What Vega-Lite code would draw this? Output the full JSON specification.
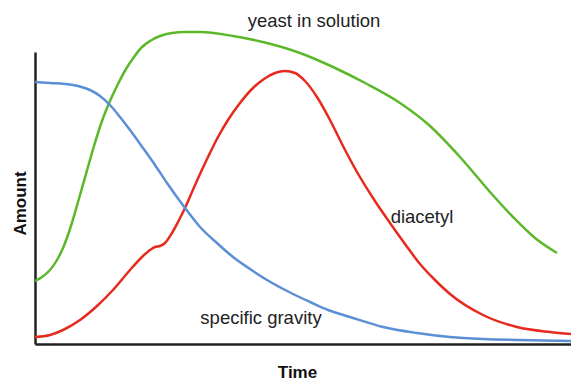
{
  "$schema": "https://vega.github.io/schema/vega-lite/v6.json",
  "width": 536,
  "height": 292,
  "autosize": {"type": "none"},
  "padding": {"left": 35, "top": 52, "right": 0, "bottom": 38},
  "background": "white",
  "config": {
    "view": {"stroke": null},
    "font": "Liberation Sans"
  },
  "datasets": {
    "curves": [
      {"series": "yeast in solution", "time": 0, "amount": 63},
      {"series": "yeast in solution", "time": 7, "amount": 67},
      {"series": "yeast in solution", "time": 15, "amount": 74},
      {"series": "yeast in solution", "time": 22, "amount": 84},
      {"series": "yeast in solution", "time": 28, "amount": 96},
      {"series": "yeast in solution", "time": 35, "amount": 115},
      {"series": "yeast in solution", "time": 43, "amount": 142},
      {"series": "yeast in solution", "time": 51, "amount": 170},
      {"series": "yeast in solution", "time": 59, "amount": 198},
      {"series": "yeast in solution", "time": 67, "amount": 223},
      {"series": "yeast in solution", "time": 75, "amount": 243},
      {"series": "yeast in solution", "time": 83, "amount": 260},
      {"series": "yeast in solution", "time": 91, "amount": 275},
      {"series": "yeast in solution", "time": 99, "amount": 287},
      {"series": "yeast in solution", "time": 107, "amount": 297},
      {"series": "yeast in solution", "time": 115, "amount": 303},
      {"series": "yeast in solution", "time": 125, "amount": 308},
      {"series": "yeast in solution", "time": 137, "amount": 311},
      {"series": "yeast in solution", "time": 150, "amount": 312},
      {"series": "yeast in solution", "time": 165, "amount": 312},
      {"series": "yeast in solution", "time": 198, "amount": 308},
      {"series": "yeast in solution", "time": 232, "amount": 301},
      {"series": "yeast in solution", "time": 265, "amount": 291},
      {"series": "yeast in solution", "time": 298, "amount": 277},
      {"series": "yeast in solution", "time": 332, "amount": 260},
      {"series": "yeast in solution", "time": 365, "amount": 241},
      {"series": "yeast in solution", "time": 395, "amount": 218},
      {"series": "yeast in solution", "time": 425, "amount": 187},
      {"series": "yeast in solution", "time": 455, "amount": 152},
      {"series": "yeast in solution", "time": 478, "amount": 127},
      {"series": "yeast in solution", "time": 500, "amount": 106},
      {"series": "yeast in solution", "time": 522, "amount": 91},

      {"series": "diacetyl", "time": 0, "amount": 7},
      {"series": "diacetyl", "time": 15, "amount": 9},
      {"series": "diacetyl", "time": 28, "amount": 14},
      {"series": "diacetyl", "time": 45, "amount": 24},
      {"series": "diacetyl", "time": 62, "amount": 38},
      {"series": "diacetyl", "time": 78, "amount": 54},
      {"series": "diacetyl", "time": 95, "amount": 74},
      {"series": "diacetyl", "time": 108, "amount": 88},
      {"series": "diacetyl", "time": 115, "amount": 94},
      {"series": "diacetyl", "time": 120, "amount": 97},
      {"series": "diacetyl", "time": 125, "amount": 98},
      {"series": "diacetyl", "time": 130, "amount": 101},
      {"series": "diacetyl", "time": 137, "amount": 111},
      {"series": "diacetyl", "time": 143, "amount": 122},
      {"series": "diacetyl", "time": 150, "amount": 136},
      {"series": "diacetyl", "time": 157, "amount": 152},
      {"series": "diacetyl", "time": 165, "amount": 170},
      {"series": "diacetyl", "time": 173, "amount": 187},
      {"series": "diacetyl", "time": 183, "amount": 207},
      {"series": "diacetyl", "time": 193, "amount": 224},
      {"series": "diacetyl", "time": 205, "amount": 241},
      {"series": "diacetyl", "time": 217, "amount": 255},
      {"series": "diacetyl", "time": 229, "amount": 265},
      {"series": "diacetyl", "time": 240, "amount": 271},
      {"series": "diacetyl", "time": 250, "amount": 273},
      {"series": "diacetyl", "time": 260, "amount": 271},
      {"series": "diacetyl", "time": 270, "amount": 263},
      {"series": "diacetyl", "time": 282, "amount": 247},
      {"series": "diacetyl", "time": 295, "amount": 224},
      {"series": "diacetyl", "time": 308, "amount": 198},
      {"series": "diacetyl", "time": 322, "amount": 172},
      {"series": "diacetyl", "time": 338, "amount": 146},
      {"series": "diacetyl", "time": 355, "amount": 121},
      {"series": "diacetyl", "time": 370, "amount": 100},
      {"series": "diacetyl", "time": 385, "amount": 80},
      {"series": "diacetyl", "time": 400, "amount": 64},
      {"series": "diacetyl", "time": 415, "amount": 50},
      {"series": "diacetyl", "time": 448, "amount": 29},
      {"series": "diacetyl", "time": 482, "amount": 17},
      {"series": "diacetyl", "time": 515, "amount": 12},
      {"series": "diacetyl", "time": 536, "amount": 10},

      {"series": "specific gravity", "time": 0, "amount": 262},
      {"series": "specific gravity", "time": 15, "amount": 261},
      {"series": "specific gravity", "time": 30, "amount": 260},
      {"series": "specific gravity", "time": 43, "amount": 258},
      {"series": "specific gravity", "time": 55, "amount": 254},
      {"series": "specific gravity", "time": 65, "amount": 248},
      {"series": "specific gravity", "time": 75, "amount": 239},
      {"series": "specific gravity", "time": 85, "amount": 227},
      {"series": "specific gravity", "time": 95, "amount": 214},
      {"series": "specific gravity", "time": 108, "amount": 196},
      {"series": "specific gravity", "time": 120, "amount": 179},
      {"series": "specific gravity", "time": 132, "amount": 161},
      {"series": "specific gravity", "time": 150, "amount": 136},
      {"series": "specific gravity", "time": 165, "amount": 117},
      {"series": "specific gravity", "time": 182, "amount": 101},
      {"series": "specific gravity", "time": 198, "amount": 87},
      {"series": "specific gravity", "time": 215, "amount": 75},
      {"series": "specific gravity", "time": 232, "amount": 64},
      {"series": "specific gravity", "time": 256, "amount": 51},
      {"series": "specific gravity", "time": 275, "amount": 42},
      {"series": "specific gravity", "time": 293, "amount": 34},
      {"series": "specific gravity", "time": 315, "amount": 27},
      {"series": "specific gravity", "time": 348, "amount": 17},
      {"series": "specific gravity", "time": 382, "amount": 11},
      {"series": "specific gravity", "time": 415, "amount": 7},
      {"series": "specific gravity", "time": 448, "amount": 5},
      {"series": "specific gravity", "time": 482, "amount": 4},
      {"series": "specific gravity", "time": 536, "amount": 3}
    ],
    "labels": [
      {"label": "yeast in solution", "time": 279, "amount": 323},
      {"label": "diacetyl", "time": 387, "amount": 127},
      {"label": "specific gravity", "time": 226, "amount": 26}
    ]
  },
  "layer": [
    {
      "data": {"name": "curves"},
      "mark": {"type": "line", "interpolate": "monotone", "strokeWidth": 2.5, "clip": false},
      "encoding": {
        "x": {
          "field": "time",
          "type": "quantitative",
          "scale": {"domain": [0, 536], "nice": false, "zero": false},
          "axis": {
            "title": "Time",
            "labels": false,
            "ticks": false,
            "grid": false,
            "domainColor": "#222222",
            "domainWidth": 2.5,
            "titleFont": "Liberation Sans",
            "titleFontSize": 17,
            "titleFontWeight": "bold",
            "titleColor": "#111111",
            "titlePadding": 20,
            "titleX": 262
          }
        },
        "y": {
          "field": "amount",
          "type": "quantitative",
          "scale": {"domain": [0, 292], "nice": false, "zero": false},
          "axis": {
            "title": "Amount",
            "labels": false,
            "ticks": false,
            "grid": false,
            "domainColor": "#222222",
            "domainWidth": 2.5,
            "titleFont": "Liberation Sans",
            "titleFontSize": 17,
            "titleFontWeight": "bold",
            "titleColor": "#111111",
            "titlePadding": 6,
            "titleY": 151
          }
        },
        "color": {
          "field": "series",
          "type": "nominal",
          "scale": {
            "domain": ["yeast in solution", "diacetyl", "specific gravity"],
            "range": ["#5cb82a", "#e62b1e", "#5b8fd6"]
          },
          "legend": null
        }
      }
    },
    {
      "data": {"name": "labels"},
      "mark": {
        "type": "text",
        "font": "Liberation Sans",
        "fontSize": 18.5,
        "color": "#222222",
        "align": "center",
        "baseline": "middle",
        "clip": false
      },
      "encoding": {
        "x": {"field": "time", "type": "quantitative"},
        "y": {"field": "amount", "type": "quantitative"},
        "text": {"field": "label"}
      }
    }
  ]
}
